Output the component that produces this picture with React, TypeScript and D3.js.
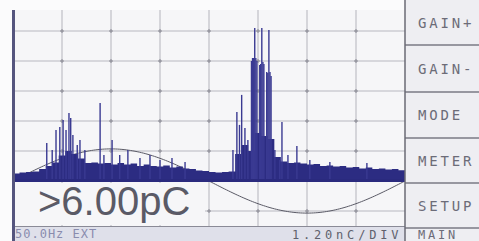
import React from "react";
import * as d3 from "d3";

// phase-resolved PD pattern, values in grid divisions
const floorPhase = d3.range(0, 361, 6);
const floorValue = [
  0.25, 0.28, 0.3, 0.32, 0.4, 0.5, 0.62, 0.85, 1.0, 0.9, 0.75, 0.6, 0.62, 0.58, 0.6, 0.55,
  0.6, 0.55, 0.58, 0.5, 0.55, 0.5, 0.48, 0.52, 0.45, 0.48, 0.42, 0.4, 0.35, 0.33, 0.3,
  0.28, 0.3, 0.32, 0.9, 1.2, 1.0, 1.6, 1.5, 1.4, 0.8, 0.65, 0.6, 0.62, 0.58, 0.55, 0.57,
  0.5, 0.52, 0.48, 0.5, 0.45, 0.47, 0.42, 0.45, 0.4, 0.42, 0.38, 0.4, 0.36, 0.35,
];

const spikePhase = [
  31, 36, 39.5, 43, 46, 48.7, 51.4, 53, 55, 59, 61.5, 66, 80, 83.5, 91, 98, 105.5, 116.6,
  125.8, 135, 146, 158, 202, 205.6, 208, 210, 213, 215.7, 219, 220, 221, 222, 223, 224,
  226.6, 227.5, 228.5, 229.5, 230.4, 233, 234, 235, 236, 237, 240.5, 245, 247, 252.5,
  260.7, 272.6, 291, 325,
];
const spikeValue = [
  1.27, 1.03, 1.7, 1.8, 2.03, 1.7, 2.27, 2.1, 1.53, 1.2, 1.37, 1.03, 2.6, 0.87, 1.37, 0.87,
  1.03, 0.77, 0.87, 0.7, 0.77, 0.63, 1.03, 2.3, 1.87, 2.87, 1.77, 1.37, 4.0, 4.1, 4.1, 5.1,
  4.1, 4.0, 3.87, 3.9, 5.1, 3.97, 3.9, 3.63, 3.6, 5.03, 3.63, 3.5, 1.03, 0.7, 1.97, 0.87,
  1.17, 0.7, 0.63, 0.6,
];

const sineAmplitude = 1.07;
const gridPhases = [45, 90, 135, 180, 225, 270, 315];
const gridValues = [-1, 1, 2, 3, 4, 5];

const readout = ">6.00pC";
const statusLeft = "50.0Hz EXT";
const statusRight = "1.20nC/DIV";
const buttons = ["GAIN+", "GAIN-", "MODE", "METER", "SETUP", "MAIN"];
const buttonEdges = [0, 45, 92, 138, 183, 228, 241];

export default function App() {
  const W = 479;
  const H = 241;
  const x = d3.scaleLinear().domain([0, 360]).range([13, 405]);
  const y = d3.scaleLinear().domain([-1.5, 5.7]).range([226, 10]);

  const floor = floorPhase.map((p, i) => ({ p, v: floorValue[i] }));
  const area = d3
    .area<{ p: number; v: number }>()
    .x((d) => x(d.p))
    .y0(y(0))
    .y1((d) => y(d.v))
    .curve(d3.curveStepAfter);

  const sine = d3
    .line<number>()
    .x((p) => x(p))
    .y((p) => y(Math.sin((p * Math.PI) / 180) * sineAmplitude));

  const mono = "DejaVu Sans Mono, monospace";

  return (
    <div style={{ position: "absolute", left: 0, top: 0 }}>
      <svg width={W} height={H} style={{ display: "block" }}>
        <rect width={W} height={H} fill="#fbfbfc" />
        {/* plot background */}
        <rect x={x(0)} y={10} width={x(360) - x(0)} height={216} fill="#f6f6f8" />

        {/* grid */}
        {gridPhases.map((p) => (
          <line key={"v" + p} x1={x(p)} x2={x(p)} y1={10} y2={226} stroke="#b4b4bc" strokeWidth={1} />
        ))}
        {gridValues.map((v) => (
          <line key={"h" + v} x1={x(0)} x2={x(360)} y1={y(v)} y2={y(v)} stroke="#b8b8c0" strokeWidth={1} />
        ))}
        {gridPhases.map((p) =>
          gridValues.map((v) => (
            <g key={"c" + p + v} stroke="#8a8a94" strokeWidth={1}>
              <line x1={x(p) - 2} x2={x(p) + 2} y1={y(v)} y2={y(v)} />
              <line x1={x(p)} x2={x(p)} y1={y(v) - 2} y2={y(v) + 2} />
            </g>
          ))
        )}

        {/* reference sine */}
        <path d={sine(d3.range(0, 361, 2)) ?? ""} fill="none" stroke="#5a5a66" strokeWidth={1} />

        {/* pulses */}
        <path d={area(floor) ?? ""} fill="#2c2c82" />
        {spikePhase.map((p, i) => (
          <line
            key={"s" + i}
            x1={x(p)}
            x2={x(p)}
            y1={y(0)}
            y2={y(spikeValue[i])}
            stroke="#3a3a92"
            strokeWidth={1.4}
          />
        ))}
        <rect x={x(0)} y={y(0) - 2} width={x(360) - x(0)} height={3} fill="#2a2a7e" />

        {/* readout box */}
        <rect x={15} y={y(0) + 2} width={190} height={42} fill="#f6f6f8" />
        <text
          x={38}
          y={215}
          fontFamily="Liberation Sans, Arial, sans-serif"
          fontSize={40}
          fill="#5a5a66"
        >
          {readout}
        </text>

        {/* status bar */}
        <rect x={14} y={227} width={W - 14} height={14} fill="#dfe0ea" />
        <line x1={13} x2={405} y1={226.5} y2={226.5} stroke="#8a8a96" strokeWidth={1} />
        <text x={15} y={238} fontFamily={mono} fontSize={12} fill="#8a8cae" letterSpacing={1}>
          {statusLeft}
        </text>
        <text x={292} y={238.5} fontFamily={mono} fontSize={12} fill="#60606c" letterSpacing={3.8}>
          {statusRight}
        </text>

        {/* side menu */}
        <rect x={405} y={0} width={W - 405} height={H} fill="#eeeef2" />
        {buttons.map((b, i) => (
          <g key={b}>
            {i > 0 && (
              <line x1={405} x2={W} y1={buttonEdges[i]} y2={buttonEdges[i]} stroke="#7a7a84" strokeWidth={1.5} />
            )}
            <text
              x={418}
              y={i === buttons.length - 1 ? 239 : (buttonEdges[i] + buttonEdges[i + 1]) / 2 + 5}
              fontFamily={mono}
              fontSize={i === buttons.length - 1 ? 12 : 14}
              fill="#6c6c78"
              letterSpacing={2.8}
            >
              {b}
            </text>
          </g>
        ))}
        <line x1={405} x2={405} y1={0} y2={H} stroke="#6a6a74" strokeWidth={1.5} />

        {/* left frame */}
        <rect x={12} y={10} width={3} height={H - 10} fill="#55557e" />
      </svg>
    </div>
  );
}
